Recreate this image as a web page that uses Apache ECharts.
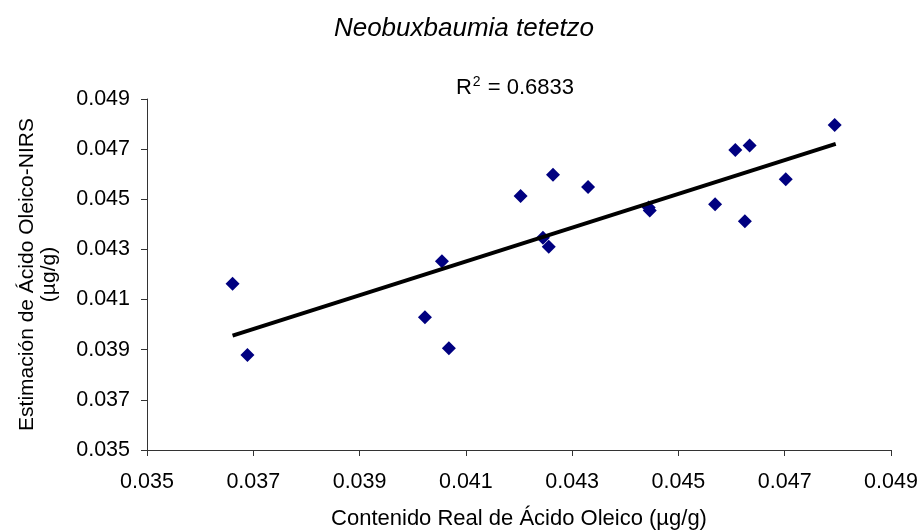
<!DOCTYPE html>
<html>
<head>
<meta charset="utf-8">
<script src="https://cdn.jsdelivr.net/npm/echarts@6/dist/echarts.min.js"></script>
<style>
  html, body { margin: 0; padding: 0; background: #fff; }
  #chart { width: 922px; height: 531px; }
</style>
</head>
<body>
<div id="chart"></div>
<script>
// valores
var realX = [0.03661, 0.03689, 0.04023, 0.04055, 0.04068, 0.04203, 0.04245, 0.04256, 0.04264,
             0.04330, 0.04444, 0.04446, 0.04569, 0.04607, 0.04634, 0.04625, 0.04702, 0.04794];
var nirsY = [0.04163, 0.03879, 0.04029, 0.04253, 0.03906, 0.04513, 0.04347, 0.04311, 0.04598,
             0.04549, 0.04467, 0.04455, 0.04480, 0.04697, 0.04715, 0.04412, 0.04580, 0.04796];
var trendX = [0.03661, 0.04796];
var trendY = [0.03956, 0.04721];
var ticks = [0.035, 0.037, 0.039, 0.041, 0.043, 0.045, 0.047, 0.049];

var FONT = "Liberation Sans";

var puntos = [];
for (var i = 0; i < realX.length; i++) puntos.push([realX[i], nirsY[i]]);
var linea = [];
for (var i = 0; i < trendX.length; i++) linea.push([trendX[i], trendY[i]]);

function eje(nombre, gap) {
    return {
        type: "value",
        min: ticks[0],
        max: ticks[ticks.length - 1],
        interval: 0.002,
        name: nombre,
        nameLocation: "middle",
        nameGap: gap,
        nameTextStyle: {fontFamily: FONT, fontSize: 22, color: "#000", lineHeight: 25},
        axisLine: {show: true, lineStyle: {color: "#333", width: 1}},
        axisTick: {show: true, inside: false, length: 6, lineStyle: {color: "#333"}},
        axisLabel: {
            fontFamily: FONT, fontSize: 21.5, color: "#000", margin: 21,
            formatter: function (v) { return v.toFixed(3); }
        },
        splitLine: {show: false}
    };
}

var chart = echarts.init(document.getElementById("chart"));
var xAxis = eje("Contenido Real de Ácido Oleico (µg/g)", 56);
var yAxis = eje("Estimación de Ácido Oleico-NIRS\n(µg/g)", 87);
yAxis.axisLabel.margin = 17;
yAxis.nameTextStyle.fontSize = 21;
yAxis.nameTextStyle.lineHeight = 22;

chart.setOption({
    animation: false,
    backgroundColor: "#fff",
    title: [{
        text: "Neobuxbaumia tetetzo",
        left: 459, top: 11, textAlign: "center",
        textStyle: {fontFamily: FONT, fontSize: 26, fontStyle: "italic", fontWeight: "normal", color: "#000"}
    }, {
        text: "{a|R}{b|2}{a| = 0.6833}",
        left: 510, top: 70, textAlign: "center",
        textStyle: {
            fontWeight: "normal",
            rich: {
                a: {fontFamily: FONT, fontSize: 22, fontWeight: "normal", color: "#000"},
                b: {fontFamily: FONT, fontSize: 14, fontWeight: "normal", color: "#000",
                    verticalAlign: "top", padding: [0, 1, 11, 1]}
            }
        }
    }],
    grid: {left: 147, right: 31, top: 99, bottom: 81, containLabel: false, outerBoundsMode: "none"},
    xAxis: xAxis,
    yAxis: yAxis,
    series: [{
        type: "scatter",
        data: puntos,
        symbol: "diamond",
        symbolSize: 14,
        itemStyle: {color: "#000080", opacity: 1},
        z: 3
    }, {
        type: "line",
        data: linea,
        showSymbol: false,
        symbol: "none",
        lineStyle: {color: "#000", width: 4},
        z: 4
    }]
});
</script>
</body>
</html>
